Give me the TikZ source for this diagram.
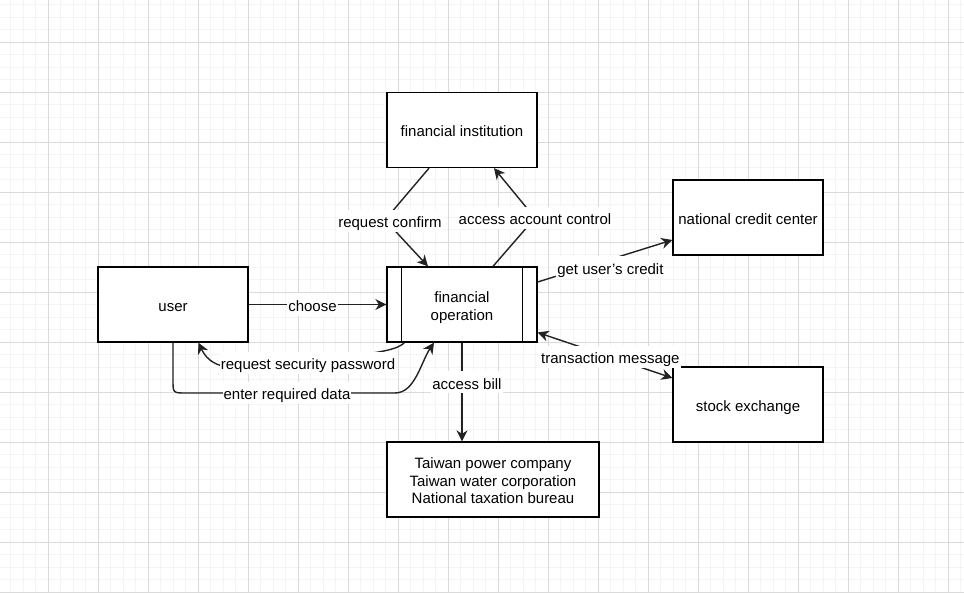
\documentclass[tikz,border=0pt]{standalone}
\usepackage{fontspec}
\setmainfont{Liberation Sans}
\usetikzlibrary{arrows.meta}
\definecolor{gridmaj}{HTML}{DADADA}
\definecolor{gridmin}{HTML}{F4F4F4}
\definecolor{edgecol}{HTML}{222222}
\newcommand\dstrut{\rule[-3.2pt]{0pt}{20.2pt}}
\newcommand\tstrut{\rule[-3.2pt]{0pt}{20.2pt}}
\newcommand\lstrut{\rule[-3.2pt]{0pt}{16.8pt}}
\tikzset{
  box/.style={draw=black, line width=1.3pt, fill=white, minimum width=150pt, minimum height=75pt, inner sep=2pt, align=center, font=\fontsize{15}{17.5}\selectfont},
  conn/.style={draw=edgecol, line width=1.4pt},
  tip/.tip={Stealth[length=11pt,width=11pt,inset=3.5pt]},
  arr/.style={conn, -tip},
  arrb/.style={conn, tip-tip},
  lbl/.style={fill=white, inner sep=1pt, font=\fontsize{15}{17}\selectfont, text=black, execute at begin node=\dstrut},
  minorline/.style={draw=gridmin, line width=1pt},
  majorline/.style={draw=gridmaj, line width=1pt}
}
\begin{document}
\begin{tikzpicture}[x=1pt, y=-1pt]
\useasboundingbox (0,0) rectangle (964,593);
\fill[white] (0,0) rectangle (964,593);
% grid
\foreach \i in {0,...,77} {\draw[minorline] ({10.8+12.5*\i},0) -- ({10.8+12.5*\i},593);}
\foreach \i in {0,...,47} {\draw[minorline] (0,{4.8+12.5*\i}) -- (964,{4.8+12.5*\i});}
\foreach \i in {0,...,18} {\draw[majorline] ({48.3+50*\i},0) -- ({48.3+50*\i},593);}
\foreach \i in {0,...,11} {\draw[majorline] (0,{42.3+50*\i}) -- (964,{42.3+50*\i});}
% nodes
\node[box] (fi) at (462,130) {\dstrut financial institution};
\node[box] (ncc) at (748,217.5) {\dstrut national credit center};
\node[box] (se) at (748,404.5) {\dstrut stock exchange};
\node[box] (user) at (173,304.5) {\dstrut user};
\node[box] (fo) at (462,304.5) {\tstrut financial\\\lstrut operation};
\draw[line width=1.3pt] ([xshift=15pt]fo.north west) -- ([xshift=15pt]fo.south west);
\draw[line width=1.3pt] ([xshift=-15pt]fo.north east) -- ([xshift=-15pt]fo.south east);
\node[box, minimum width=212pt] (bill) at (493,479.5) {\tstrut Taiwan power company\\\lstrut Taiwan water corporation\\\lstrut National taxation bureau};
% connectors
\draw[arr] (user.east) -- node[lbl, xshift=-5pt]{choose} (fo.west);
\draw[arr] ([xshift=18pt]fo.south west) .. controls (395,352) and (370,353) .. (308,362)
  .. controls (240,371) and (213,373) .. ([xshift=101pt]user.south west);
\node[lbl] (rsp) at (308,363) {request security password};
\draw[arr] (user.south) -- (173,380) .. controls (173,393) .. (186,393) -- (395,393)
  .. controls (415,393) and (421,362) .. ([xshift=-28pt]fo.south);
\node[lbl] (erd) at (287,393) {enter required data};
\draw[arr] (fo.south) -- node[lbl, pos=0.4, xshift=5pt]{access bill} (fo.south |- bill.north);
\draw[arr] ([xshift=-33pt]fi.south) -- (385,220) node[lbl, xshift=5pt, yshift=-1pt]{request confirm} -- ([xshift=-34pt]fo.north);
\draw[arr] ([xshift=31pt]fo.north) -- (535,218) node[lbl]{access account control} -- ([xshift=32pt]fi.south);
\draw[arr] ([yshift=22.5pt]fo.east) -- node[lbl, pos=0.54, yshift=-8pt]{get user's credit} ([yshift=-22.5pt]ncc.west);
\draw[arrb] ([yshift=-28pt]fo.east) -- node[lbl, pos=0.54]{transaction message} ([yshift=26.5pt]se.west);
\end{tikzpicture}
\end{document}
